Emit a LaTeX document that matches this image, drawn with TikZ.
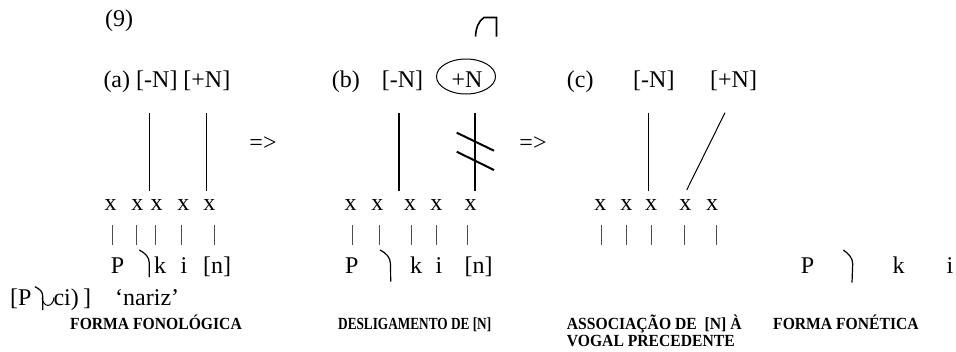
\documentclass[tikz,border=0pt]{standalone}
\usepackage{fontspec}
\setmainfont{Liberation Serif}
\begin{document}
\begin{tikzpicture}[x=1pt,y=-1pt,
  txt/.style={inner sep=0pt, anchor=base, font=\fontsize{24}{28}\selectfont},
  txtw/.style={txt, anchor=base west},
  lbl/.style={inner sep=0pt, anchor=base west, font=\fontsize{17}{20}\selectfont\bfseries},
  assoc/.style={line width=1.5pt},
  thinassoc/.style={line width=1pt},
  bar/.style={line width=0.7pt, black!70},
  tie/.style={line width=1.2pt},
  cut/.style={line width=2pt},
]
\useasboundingbox (0,0) rectangle (956,351);

% example number
\node[txtw] (num) at (105,26.5) {(9)};

% ---------- (a) ----------
\node[txtw] (alab) at (103.3,87.5) {(a)};
\node[txtw] (aminus) at (136,87.5) {[-N]};
\node[txtw] (aplus) at (183.2,87.5) {[+N]};
\coordinate (aL1t) at (149.3,113); \coordinate (aL1b) at (149.3,190.7);
\coordinate (aL2t) at (206.7,113); \coordinate (aL2b) at (206.7,190.7);
\draw[assoc] (aL1t) -- (aL1b);
\draw[assoc] (aL2t) -- (aL2b);
\foreach \i/\xx in {1/110.7,2/137.3,3/156.7,4/183.3,5/209.3}
  \node[txt] (ax\i) at (\xx,210.5) {x};
\foreach \i/\xx in {1/112.7,2/136.7,3/155.7,4/181,5/214}{
  \coordinate (abt\i) at (\xx,225); \coordinate (abb\i) at (\xx,245);
  \draw[bar] (abt\i) -- (abb\i);}
\node[txt] (aP) at (117.5,273) {P};
\node[txt] (ak) at (160,273) {k};
\node[txt] (ai) at (184,273) {i};
\node[txt] (an) at (217,273) {[n]};
\draw[tie] (139.3,250) .. controls (145,253) and (149.3,257) .. (149.3,263) -- (149.3,277);

% gloss
\node[txtw] (g1) at (10,305) {[P};
\draw[tie] (35,286.7) .. controls (40,289) and (42.7,292) .. (42.7,296) -- (42.7,310);
\draw[line width=1pt] (42,297.5) .. controls (43,308) and (53,308) .. (54,297.5);
\node[txtw] (g2) at (53.3,305) {ci)};
\node[txtw] (g2b) at (83,305) {]};
\node[txtw] (g3) at (115,305) {‘nariz’};

% arrows
\node[txt] (arr1) at (263,150) {=>};
\node[txt] (arr2) at (533,150) {=>};

% ---------- (b) ----------
\node[txtw] (blab) at (331.7,87.5) {(b)};
\node[txtw] (bminus) at (381.7,87.5) {[-N]};
\node[txt] (bplus) at (467,87.5) {+N};
\draw[line width=1pt] (466,76.5) ellipse [x radius=29.5, y radius=17.5];
\draw[line width=1.6pt] (475.5,36.5) .. controls (476,28) and (478.5,21) .. (484,17.5) -- (496.5,17.5) -- (496.5,36.5);
\coordinate (bL1t) at (399,113); \coordinate (bL1b) at (399,190.7);
\coordinate (bL2t) at (475,113); \coordinate (bL2b) at (475,190.7);
\draw[assoc] (bL1t) -- (bL1b);
\draw[assoc] (bL2t) -- (bL2b);
\coordinate (c1a) at (456.7,132.7); \coordinate (c1b) at (494,150.7);
\coordinate (c2a) at (456.7,151.7); \coordinate (c2b) at (494,170);
\draw[cut] (c1a) -- (c1b);
\draw[cut] (c2a) -- (c2b);
\foreach \i/\xx in {1/350.7,2/377.3,3/410,4/436.3,5/470.7}
  \node[txt] (bx\i) at (\xx,210.5) {x};
\foreach \i/\xx in {1/352.7,2/379,3/411,4/436,5/467.7}{
  \coordinate (bbt\i) at (\xx,225); \coordinate (bbb\i) at (\xx,245);
  \draw[bar] (bbt\i) -- (bbb\i);}
\node[txt] (bP) at (351.7,273) {P};
\node[txt] (bk) at (416,273) {k};
\node[txt] (bi) at (439,273) {i};
\node[txt] (bn) at (478.5,273) {[n]};
\draw[tie] (380,250) .. controls (386,253) and (390.3,257) .. (390.5,264) -- (390.7,281.7);

% ---------- (c) ----------
\node[txtw] (clab) at (566.7,87.5) {(c)};
\node[txtw] (cminus) at (633,87.5) {[-N]};
\node[txtw] (cplus) at (710,87.5) {[+N]};
\coordinate (cL1t) at (648.3,113); \coordinate (cL1b) at (648.3,190.7);
\coordinate (cL2t) at (725,112.7); \coordinate (cL2b) at (686.7,190);
\draw[assoc] (cL1t) -- (cL1b);
\draw[thinassoc] (cL2t) -- (cL2b);
\foreach \i/\xx in {1/600.3,2/626.3,3/651,4/685.3,5/712}
  \node[txt] (cx\i) at (\xx,210.5) {x};
\foreach \i/\xx in {1/601,2/626.7,3/651.7,4/684,5/716}{
  \coordinate (cbt\i) at (\xx,225); \coordinate (cbb\i) at (\xx,245);
  \draw[bar] (cbt\i) -- (cbb\i);}

% phonetic form
\node[txt] (fP) at (807.5,273) {P};
\node[txt] (fk) at (898.5,273) {k};
\node[txt] (fi) at (950,273) {i};
\draw[tie] (843.3,250) .. controls (849,254) and (852.7,258) .. (852.7,264) -- (852,282.7);

% ---------- labels ----------
\node[lbl] (l1) at (70,329) {\scalebox{0.92}[1]{FORMA FONOLÓGICA}};
\node[lbl] (l2) at (338,329) {\scalebox{0.78}[1]{DESLIGAMENTO DE [N]}};
\node[lbl] (l3) at (566.7,329) {\scalebox{0.92}[1]{ASSOCIAÇÃO DE\ \ [N] À}};
\node[lbl] (l3b) at (566.7,346) {\scalebox{0.92}[1]{VOGAL PRECEDENTE}};
\node[lbl] (l4) at (773,329) {\scalebox{0.92}[1]{FORMA FONÉTICA}};
\end{tikzpicture}
\end{document}
